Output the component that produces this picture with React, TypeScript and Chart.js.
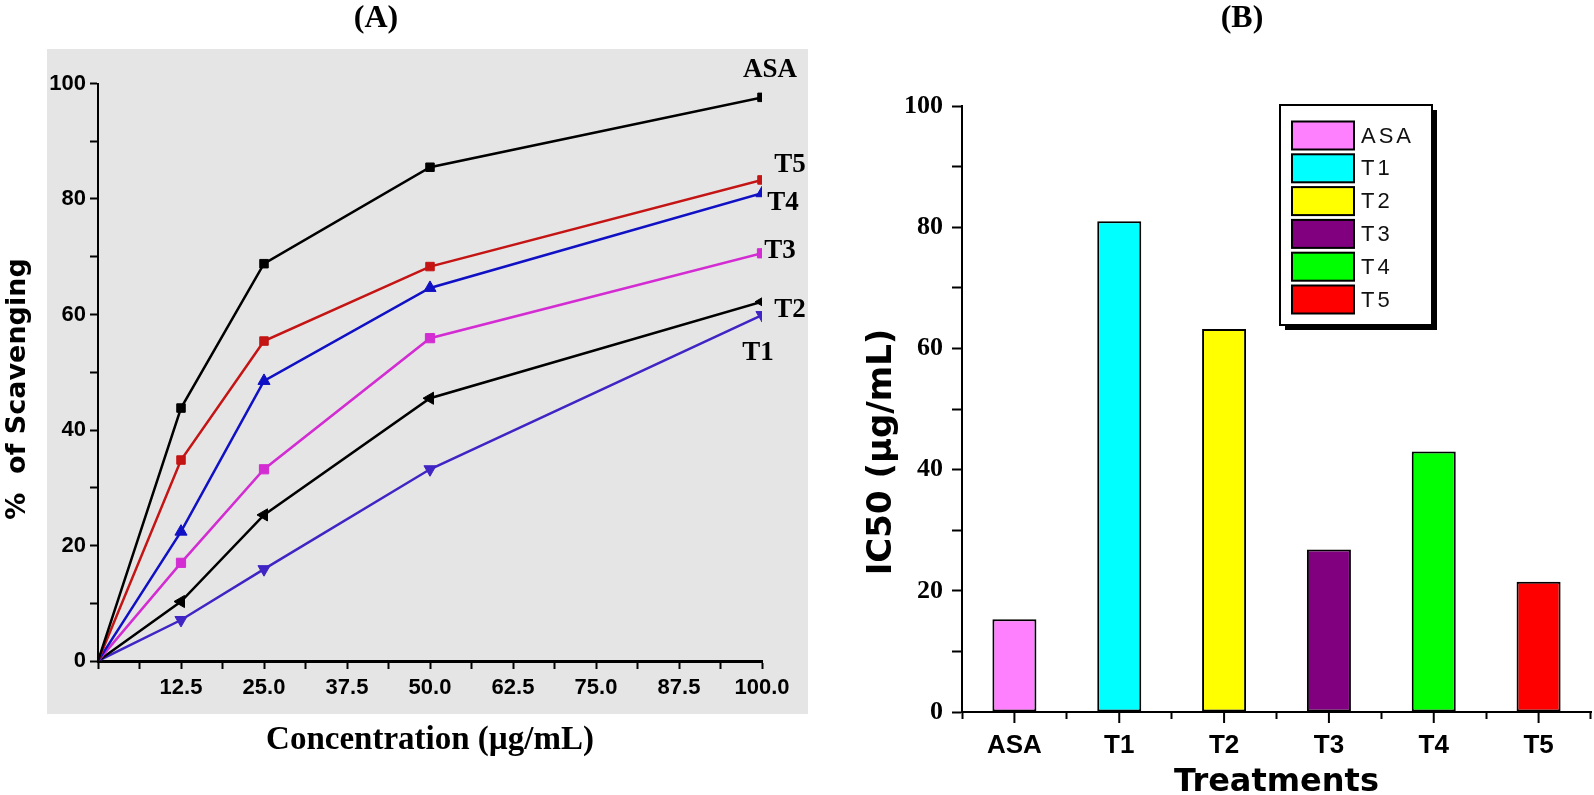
import React, { useEffect, useRef } from 'react';
import { Chart, registerables } from 'chart.js';

Chart.register(...registerables);

// ---------- Panel A data ----------
const concentrations = [0, 12.5, 25, 50, 100];
const seriesNames = ['ASA', 'T5', 'T4', 'T3', 'T2', 'T1'];
const asaScavenging = [0, 43.8, 68.8, 85.5, 97.6];
const t5Scavenging = [0, 34.8, 55.4, 68.3, 83.3];
const t4Scavenging = [0, 22.4, 48.5, 64.6, 81.0];
const t3Scavenging = [0, 17.0, 33.2, 55.9, 70.6];
const t2Scavenging = [0, 10.3, 25.3, 45.5, 62.2];
const t1Scavenging = [0, 7.1, 15.9, 33.2, 59.9];
const scavengingSeries = [asaScavenging, t5Scavenging, t4Scavenging, t3Scavenging, t2Scavenging, t1Scavenging];

// ---------- Panel B data ----------
const treatments = ['ASA', 'T1', 'T2', 'T3', 'T4', 'T5'];
const ic50Values = [15.3, 81.0, 63.2, 26.8, 43.0, 21.5];

// ---------- styles (kept apart from data) ----------
const lineColors = ['#000000', '#c41414', '#1010c4', '#d22cd2', '#000000', '#4024c4'];
const pointStyles = ['rect', 'rect', 'triangle', 'rect', 'triangle', 'triangle'];
const pointRotations = [0, 0, 0, 0, 270, 180];
const pointRadii = [6, 6, 7, 6.5, 7, 7];
const endLabelOffsets = [[8, -27], [28, -15], [21, 10], [18, -2], [28, 8], [-4, 38]];
const barColors = ['#ff80ff', '#00ffff', '#ffff00', '#800080', '#00ff00', '#ff0000'];

const SERIF = '"Liberation Serif", "Times New Roman", serif';
const SANS = '"Liberation Sans", Arial, sans-serif';
const DEJAVU = '"DejaVu Sans", Verdana, sans-serif';

const textOverlay = {
  id: 'textOverlay',
  afterDraw(chart: any, _args: any, opts: any) {
    const ctx = chart.ctx;
    (opts.items || []).forEach((it: any) => {
      ctx.save();
      ctx.font = it.font;
      ctx.fillStyle = it.color || '#000';
      ctx.textAlign = 'center';
      ctx.textBaseline = 'middle';
      ctx.translate(it.x, it.y);
      if (it.rotation) ctx.rotate(it.rotation);
      ctx.fillText(it.text, 0, 0);
      ctx.restore();
    });
  },
};

const endLabels = {
  id: 'endLabels',
  afterDatasetsDraw(chart: any, _args: any, opts: any) {
    const ctx = chart.ctx;
    ctx.save();
    ctx.font = opts.font;
    ctx.fillStyle = '#000';
    ctx.textAlign = 'center';
    ctx.textBaseline = 'middle';
    chart.data.datasets.forEach((ds: any, i: number) => {
      const meta = chart.getDatasetMeta(i);
      const pt = meta.data[meta.data.length - 1];
      const off = opts.offsets[i];
      ctx.fillText(ds.label, pt.x + off[0], pt.y + off[1]);
    });
    ctx.restore();
  },
};

const boxLegend = {
  id: 'boxLegend',
  afterDraw(chart: any, _args: any, opts: any) {
    const ctx = chart.ctx;
    const ca = chart.chartArea;
    const left = ca.left + opts.dx;
    const top = ca.top + opts.dy;
    const w = opts.width;
    const h = opts.height;
    ctx.save();
    ctx.fillStyle = '#000';
    ctx.fillRect(left + 5, top + 5, w, h);
    ctx.fillStyle = '#fff';
    ctx.fillRect(left, top, w, h);
    ctx.lineWidth = 2;
    ctx.strokeStyle = '#000';
    ctx.strokeRect(left, top, w, h);
    const ds = chart.data.datasets[0];
    ctx.font = opts.font;
    ctx.textAlign = 'left';
    ctx.textBaseline = 'middle';
    try { (ctx as any).letterSpacing = opts.letterSpacing; } catch (e) {}
    chart.data.labels.forEach((lab: string, i: number) => {
      const sy = top + opts.firstRow + i * opts.rowPitch;
      ctx.fillStyle = ds.backgroundColor[i];
      ctx.fillRect(left + opts.swatchX, sy, opts.swatchW, opts.swatchH);
      ctx.strokeStyle = '#000';
      ctx.lineWidth = 2;
      ctx.strokeRect(left + opts.swatchX, sy, opts.swatchW, opts.swatchH);
      ctx.fillStyle = '#111';
      ctx.fillText(lab, left + opts.swatchX + opts.swatchW + 7, sy + opts.swatchH / 2 + 1);
    });
    ctx.restore();
  },
};

const centerTicks = {
  id: 'centerTicks',
  afterDraw(chart: any, _args: any, opts: any) {
    const ctx = chart.ctx;
    const xs = chart.scales.x;
    const bottom = chart.chartArea.bottom;
    ctx.save();
    ctx.strokeStyle = '#000';
    ctx.lineWidth = 2;
    chart.data.labels.forEach((_l: string, i: number) => {
      const px = xs.getPixelForValue(i);
      ctx.beginPath();
      ctx.moveTo(px, bottom);
      ctx.lineTo(px, bottom + opts.length);
      ctx.stroke();
    });
    ctx.restore();
  },
};

export default function App() {
  const refA = useRef<HTMLCanvasElement>(null);
  const refB = useRef<HTMLCanvasElement>(null);

  useEffect(() => {
    const datasetsA = scavengingSeries.map((vals, i) => ({
      label: seriesNames[i],
      data: concentrations.map((c, j) => ({ x: c, y: vals[j] })),
      borderColor: lineColors[i],
      backgroundColor: lineColors[i],
      borderWidth: 2.5,
      tension: 0,
      pointStyle: pointStyles[i],
      rotation: pointRotations[i],
      pointRadius: concentrations.map((c) => (c === 0 ? 0 : pointRadii[i])),
      pointBorderWidth: 1,
    }));

    const chartA = new Chart(refA.current as HTMLCanvasElement, {
      type: 'line',
      data: { datasets: datasetsA as any },
      plugins: [endLabels, textOverlay],
      options: {
        responsive: false,
        maintainAspectRatio: false,
        animation: false,
        layout: { padding: { left: 0, top: 83.5, right: 48, bottom: 0 } },
        plugins: {
          legend: { display: false },
          tooltip: { enabled: false },
          title: { display: false },
          endLabels: { font: `bold 27px ${SERIF}`, offsets: endLabelOffsets },
          textOverlay: {
            items: [
              { text: '(A)', x: 376, y: 19, font: `bold 32px ${SERIF}` },
              { text: '%  of Scavenging', x: 18, y: 389, rotation: -Math.PI / 2, font: `bold 27px ${DEJAVU}` },
            ],
          },
        } as any,
        scales: {
          x: {
            type: 'linear',
            min: 0,
            max: 100,
            afterFit: (s: any) => { s.height = 134; },
            ticks: {
              stepSize: 6.25,
              autoSkip: false,
              maxRotation: 0,
              minRotation: 0,
              padding: 6,
              color: '#000',
              font: { family: SANS, weight: 'bold', size: 22 },
              callback: (v: any) => (v > 0 && v % 12.5 === 0 ? Number(v).toFixed(1) : ''),
            },
            grid: { drawOnChartArea: false, drawTicks: true, tickLength: 8, tickColor: '#000', tickWidth: 2, color: '#000' },
            border: { display: true, color: '#000', width: 3 },
            title: {
              display: true,
              text: 'Concentration (µg/mL)',
              color: '#000',
              font: { family: SERIF, weight: 'bold', size: 33 },
              padding: { top: 0, bottom: 35 },
            },
          },
          y: {
            type: 'linear',
            min: 0,
            max: 100,
            afterFit: (s: any) => { s.width = 98; },
            ticks: {
              stepSize: 10,
              autoSkip: false,
              padding: 4,
              color: '#000',
              font: { family: SANS, weight: 'bold', size: 22 },
              callback: (v: any) => (v % 20 === 0 ? String(v) : ''),
            },
            grid: { drawOnChartArea: false, drawTicks: true, tickLength: 8, tickColor: '#000', tickWidth: 2, color: '#000' },
            border: { display: true, color: '#000', width: 2 },
          },
        },
      } as any,
    });

    const chartB = new Chart(refB.current as HTMLCanvasElement, {
      type: 'bar',
      data: {
        labels: treatments,
        datasets: [
          {
            label: 'IC50',
            data: ic50Values,
            backgroundColor: barColors,
            borderColor: '#000',
            borderWidth: 2,
            borderSkipped: false,
            barPercentage: 0.42,
            categoryPercentage: 1,
          },
        ],
      },
      plugins: [boxLegend, centerTicks, textOverlay],
      options: {
        responsive: false,
        maintainAspectRatio: false,
        animation: false,
        layout: { padding: { left: 0, top: 106, right: 3, bottom: 0 } },
        plugins: {
          legend: { display: false },
          tooltip: { enabled: false },
          title: { display: false },
          boxLegend: {
            dx: 318, dy: -1, width: 152, height: 220,
            swatchX: 12, swatchW: 62, swatchH: 28, firstRow: 16.5, rowPitch: 32.8,
            font: `22px ${SANS}`, letterSpacing: '3px',
          },
          centerTicks: { length: 11 },
          textOverlay: {
            items: [
              { text: '(B)', x: 442, y: 19, font: `bold 32px ${SERIF}` },
              { text: 'IC50 (µg/mL)', x: 82, y: 452, rotation: -Math.PI / 2, font: `bold 34px ${DEJAVU}` },
            ],
          },
        } as any,
        scales: {
          x: {
            type: 'category',
            afterFit: (s: any) => { s.height = 83; },
            ticks: {
              padding: 11,
              color: '#000',
              maxRotation: 0,
              font: { family: SANS, weight: 'bold', size: 26 },
            },
            grid: { offset: true, drawOnChartArea: false, drawTicks: true, tickLength: 7, tickColor: '#000', tickWidth: 2, color: '#000' },
            border: { display: true, color: '#000', width: 2 },
            title: {
              display: true,
              text: 'Treatments',
              color: '#000',
              font: { family: DEJAVU, weight: 'bold', size: 32, lineHeight: 0.8 },
              padding: { top: 0, bottom: 0 },
            },
          },
          y: {
            type: 'linear',
            min: 0,
            max: 100,
            afterFit: (s: any) => { s.width = 162; },
            ticks: {
              stepSize: 10,
              autoSkip: false,
              padding: 9,
              color: '#000',
              font: { family: SERIF, weight: 'bold', size: 26 },
              callback: (v: any) => (v % 20 === 0 ? String(v) : ''),
            },
            grid: { drawOnChartArea: false, drawTicks: true, tickLength: 10, tickColor: '#000', tickWidth: 2, color: '#000' },
            border: { display: true, color: '#000', width: 2 },
          },
        },
      } as any,
    });

    return () => {
      chartA.destroy();
      chartB.destroy();
    };
  }, []);

  return (
    <div style={{ position: 'fixed', left: 0, top: 0, width: 1594, height: 795, overflow: 'hidden', background: '#ffffff' }}>
      <div style={{ position: 'absolute', left: 47, top: 49, width: 761, height: 665, background: '#e5e5e5' }} />
      <canvas ref={refA} width={810} height={795} style={{ position: 'absolute', left: 0, top: 0 }} />
      <canvas ref={refB} width={794} height={795} style={{ position: 'absolute', left: 800, top: 0 }} />
    </div>
  );
}
